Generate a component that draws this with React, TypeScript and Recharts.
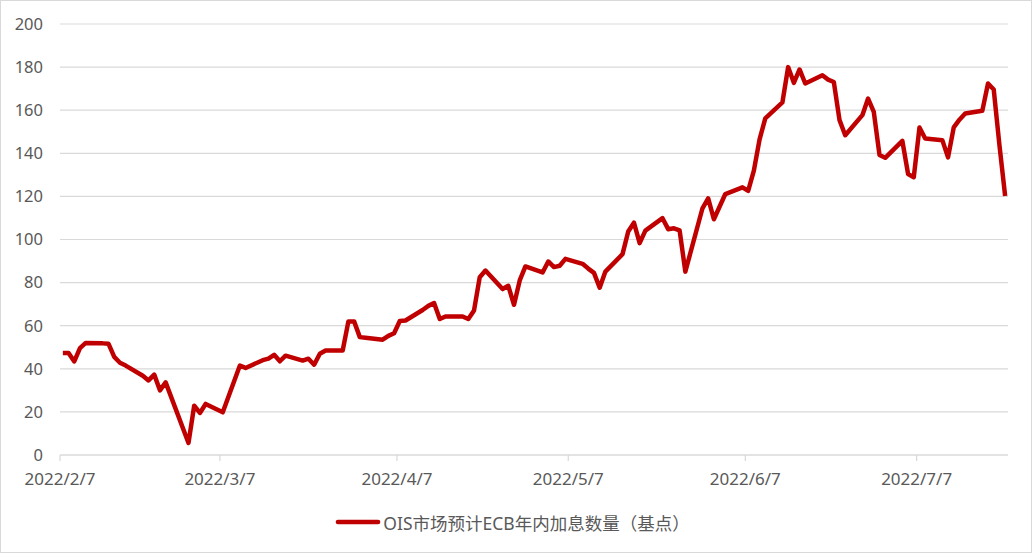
import React from 'react';
import { LineChart, Line, XAxis, YAxis, CartesianGrid, Legend } from 'recharts';

const YEAR = 2022;
const START = '2/7';
const END = '7/23';
const SERIES_NAME = 'OIS市场预计ECB年内加息数量（基点）';

const dates = [
  '2/7', '2/8', '2/9', '2/10', '2/11', '2/14', '2/15', '2/16', '2/17', '2/18',
  '2/21', '2/22', '2/23', '2/24', '2/25', '3/1', '3/2', '3/3', '3/4', '3/7',
  '3/10', '3/11', '3/14', '3/15', '3/16', '3/17', '3/18', '3/21', '3/22', '3/23',
  '3/24', '3/25', '3/28', '3/29', '3/30', '3/31', '4/1', '4/4', '4/5', '4/6',
  '4/7', '4/8', '4/11', '4/12', '4/13', '4/14', '4/15', '4/18', '4/19', '4/20',
  '4/21', '4/22', '4/25', '4/26', '4/27', '4/28', '4/29', '5/2', '5/3', '5/4',
  '5/5', '5/6', '5/9', '5/10', '5/11', '5/12', '5/13', '5/16', '5/17', '5/18',
  '5/19', '5/20', '5/23', '5/24', '5/25', '5/26', '5/27', '5/30', '5/31', '6/1',
  '6/3', '6/6', '6/7', '6/8', '6/9', '6/10', '6/13', '6/14', '6/15', '6/16',
  '6/17', '6/20', '6/21', '6/22', '6/23', '6/24', '6/27', '6/28', '6/29', '6/30',
  '7/1', '7/4', '7/5', '7/6', '7/7', '7/8', '7/11', '7/12', '7/13', '7/14',
  '7/15', '7/18', '7/19', '7/20', '7/21', '7/22',
];

const hikes = [
  47.3, 47.3, 43.4, 49.6, 52.0, 51.8, 51.6, 45.5, 42.8, 41.5,
  36.8, 34.6, 37.3, 30.0, 33.7, 5.6, 22.9, 19.5, 23.7, 19.8,
  41.5, 40.4, 44.0, 44.7, 46.5, 43.5, 46.1, 43.8, 44.7, 41.9,
  47.0, 48.5, 48.5, 62.0, 62.0, 54.7, 54.4, 53.5, 55.3, 56.5,
  62.2, 62.4, 67.3, 69.2, 70.5, 63.1, 64.3, 64.3, 63.1, 67.1,
  82.5, 85.6, 77.0, 78.5, 69.7, 81.0, 87.5, 84.7, 89.8, 87.2,
  87.8, 91.0, 88.7, 86.5, 84.5, 77.6, 85.1, 93.2, 103.7, 107.8,
  98.3, 104.1, 109.9, 104.8, 105.2, 104.2, 85.1, 114.5, 119.1, 109.4,
  121.1, 124.2, 122.6, 132.0, 146.5, 156.2, 163.6, 180.0, 172.7, 178.9,
  172.4, 176.2, 174.2, 173.1, 155.4, 148.4, 157.7, 165.4, 159.2, 139.2,
  137.9, 145.8, 130.4, 128.9, 152.0, 146.9, 146.1, 138.1, 152.0, 155.6,
  158.5, 159.7, 172.4, 169.6, 143.8, 120.2,
];

const xTickDates = ['2/7', '3/7', '4/7', '5/7', '6/7', '7/7'];
const yTicks = [0, 20, 40, 60, 80, 100, 120, 140, 160, 180, 200];

const DAY = 86400000;
const toUtc = (md: string) => {
  const [m, d] = md.split('/').map(Number);
  return Date.UTC(YEAR, m - 1, d);
};
const dayOffset = (md: string) => Math.round((toUtc(md) - toUtc(START)) / DAY);

// points sit in the middle of each day's slot (Excel "between tick marks")
const data = dates.map((d, i) => ({ x: dayOffset(d) + 0.5, value: hikes[i] }));
const xTicks = xTickDates.map(dayOffset);
const tickLabel = (v: number) => {
  const i = xTicks.indexOf(v);
  return i >= 0 ? `${YEAR}/${xTickDates[i]}` : '';
};

const FONT = '"Noto Sans", "Noto Sans CJK SC", sans-serif';
const RED = '#C00000';

const LegendBox = () => (
  <div
    style={{
      height: 56,
      display: 'flex',
      alignItems: 'center',
      justifyContent: 'center',
      paddingBottom: 4,
      paddingLeft: 16,
      boxSizing: 'border-box',
      fontFamily: FONT,
      fontSize: 17.5,
      color: '#595959',
    }}
  >
    <svg width={46} height={8} style={{ marginRight: 2 }}>
      <line x1={3} y1={4} x2={43} y2={4} stroke={RED} strokeWidth={4.7} strokeLinecap="round" />
    </svg>
    <span>{SERIES_NAME}</span>
  </div>
);

export default function App() {
  return (
    <div
      style={{
        position: 'absolute',
        left: 0,
        top: 0,
        width: 1032,
        height: 553,
        border: '1px solid #d9d9d9',
        boxSizing: 'border-box',
        background: '#fff',
      }}
    >
      <LineChart width={1030} height={551} data={data} margin={{ top: 23, right: 23, bottom: 0, left: 0 }}>
        <CartesianGrid vertical={false} stroke="#d9d9d9" strokeWidth={1.2} />
        <XAxis
          dataKey="x"
          type="number"
          domain={[0, dayOffset(END)]}
          ticks={xTicks}
          tickFormatter={tickLabel}
          height={41}
          stroke="#d9d9d9"
          strokeWidth={1.2}
          tickSize={6}
          tickMargin={12}
          tick={{ fill: '#595959', fontSize: 17, fontFamily: FONT }}
        />
        <YAxis
          domain={[0, 200]}
          ticks={yTicks}
          width={59}
          axisLine={false}
          tickLine={false}
          tickSize={6}
          tickMargin={11}
          tick={{ fill: '#595959', fontSize: 16.5, fontFamily: FONT }}
        />
        <Legend verticalAlign="bottom" content={() => <LegendBox />} />
        <Line
          type="linear"
          dataKey="value"
          name={SERIES_NAME}
          stroke={RED}
          strokeWidth={4.5}
          strokeLinejoin="round"
          dot={false}
          activeDot={false}
          isAnimationActive={false}
        />
      </LineChart>
    </div>
  );
}
